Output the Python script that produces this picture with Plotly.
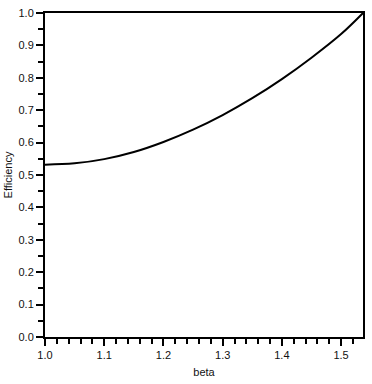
import plotly.graph_objects as go

beta = [1.0, 1.05, 1.1, 1.15, 1.2, 1.25, 1.3, 1.35, 1.4, 1.45, 1.5, 1.537]
efficiency = [0.532, 0.536, 0.549, 0.571, 0.602, 0.640, 0.685, 0.737, 0.796, 0.862, 0.935, 1.0]

x_ticks = [1.0, 1.1, 1.2, 1.3, 1.4, 1.5]
y_ticks = [0.0, 0.1, 0.2, 0.3, 0.4, 0.5, 0.6, 0.7, 0.8, 0.9, 1.0]

fig = go.Figure()
fig.add_trace(go.Scatter(x=beta, y=efficiency, mode="lines",
                         line=dict(color="black", width=2, shape="spline", smoothing=1.0),
                         showlegend=False, hoverinfo="skip"))

font = dict(family="Liberation Sans, Arial, sans-serif", size=11, color="#111111")
fig.update_layout(
    width=372, height=384,
    margin=dict(l=43, r=7, t=10, b=41),
    paper_bgcolor="white", plot_bgcolor="white",
    font=font,
    xaxis=dict(range=[1.0, 1.537], tickvals=x_ticks, ticktext=[f"{v:.1f}" for v in x_ticks],
               ticks="outside", ticklen=7, tickwidth=2, tickcolor="black",
               showline=True, linewidth=2, linecolor="black", mirror=True,
               showgrid=False, zeroline=False,
               minor=dict(dtick=0.02, tick0=1.0, ticks="outside", ticklen=5, tickwidth=1.5, tickcolor="black", showgrid=False),
               title=dict(text="beta", standoff=8, font=dict(size=11))),
    yaxis=dict(range=[0, 1.0], tickvals=y_ticks, ticktext=[f"{v:.1f}" for v in y_ticks],
               ticks="outside", ticklen=7, tickwidth=2, tickcolor="black",
               showline=True, linewidth=2, linecolor="black", mirror=True,
               showgrid=False, zeroline=False,
               minor=dict(dtick=0.05, tick0=0, ticks="outside", ticklen=5, tickwidth=1.5, tickcolor="black", showgrid=False),
               title=dict(text="Efficiency", standoff=4, font=dict(size=11))),
)
fig.write_html("out.html")
